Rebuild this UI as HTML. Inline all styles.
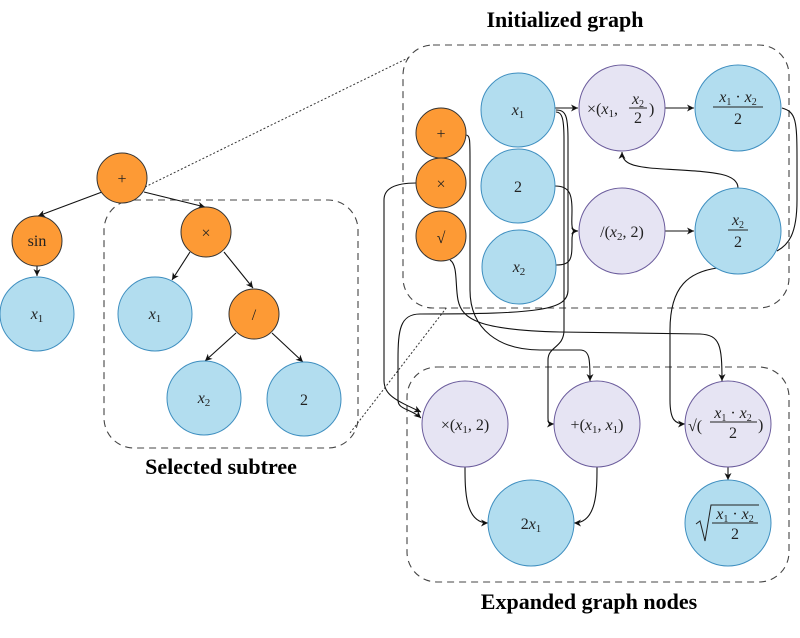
<!DOCTYPE html>
<html><head><meta charset="utf-8"><style>
body{margin:0;background:#fff}
svg{display:block}
text{font-family:"Liberation Serif",serif;font-size:16px;fill:#222}
.i{font-style:italic}
.t{font-weight:bold;font-size:22px;fill:#000}
.o{fill:#fd9a35;stroke:#333;stroke-width:1}
.b{fill:#b2ddef;stroke:#3f8fc0;stroke-width:1}
.l{fill:#e6e4f3;stroke:#6b5c9c;stroke-width:1}
.e{fill:none;stroke:#111;stroke-width:1.1}
.d{fill:none;stroke:#444;stroke-width:1.1;stroke-dasharray:7,5}
</style></head><body>
<svg width="800" height="638" viewBox="0 0 800 638" xmlns="http://www.w3.org/2000/svg">
<defs><marker id="a" markerWidth="8" markerHeight="8" refX="7" refY="4" orient="auto" markerUnits="userSpaceOnUse"><path d="M0,0.5 L7,4 L0,7.5 L2,4z" fill="#111"/></marker></defs>
<rect class="d" x="104" y="200" width="254" height="248" rx="30"/>
<rect class="d" x="403" y="45" width="386" height="263" rx="30"/>
<rect class="d" x="407" y="367" width="382" height="215" rx="30"/>
<line x1="145" y1="187" x2="410" y2="57" stroke="#333" stroke-dasharray="2,2"/>
<line x1="350" y1="433" x2="447" y2="307" stroke="#333" stroke-dasharray="2,2"/>
<text class="t" x="565" y="27" text-anchor="middle">Initialized graph</text>
<text class="t" x="221" y="474" text-anchor="middle">Selected subtree</text>
<text class="t" x="589" y="609" text-anchor="middle">Expanded graph nodes</text>
<g class="e">
<line x1="102" y1="192" x2="38" y2="216" marker-end="url(#a)"/>
<line x1="144" y1="192" x2="205" y2="207" marker-end="url(#a)"/>
<line x1="37" y1="266" x2="37" y2="276" marker-end="url(#a)"/>
<line x1="190" y1="252" x2="172" y2="280" marker-end="url(#a)"/>
<line x1="224" y1="252" x2="253" y2="288" marker-end="url(#a)"/>
<line x1="236" y1="333" x2="205" y2="361" marker-end="url(#a)"/>
<line x1="272" y1="333" x2="303" y2="362" marker-end="url(#a)"/>
</g>
<g class="e">
<path d="M555,108 L578,108" marker-end="url(#a)"/>
<path d="M665,108 L694,108" marker-end="url(#a)"/>
<path d="M665,231 L694,231" marker-end="url(#a)"/>
<path d="M738,188 C738,170 700,172 650,168 C630,166 622,162 622,152" marker-end="url(#a)"/>
<path d="M555,186 C570,186 572,195 572,210 C572,225 570,231 578,231" marker-end="url(#a)"/>
<path d="M556,265 C572,265 572,258 572,240 C572,232 574,231 578,231"/>
<path d="M556,110 C566,110 568,116 568,140 L568,290 C568,310 540,314 420,314 C400,314 398,330 398,360 L398,400 C398,410 410,408 421,418" marker-end="url(#a)"/>
<path d="M556,112 C562,112 564,118 564,140 L564,330 C564,348 548,346 548,360 L548,418 C548,424 550,424 554,424" marker-end="url(#a)"/>
<path d="M466,135 C470,135 470,140 470,160 L470,290 C470,330 500,350 540,350 L580,350 C590,350 590,360 590,381" marker-end="url(#a)"/>
<path d="M416,183 C400,183 384,186 384,200 L384,380 C384,395 395,400 421,412" marker-end="url(#a)"/>
<path d="M450,260 C458,265 455,285 458,300 C462,320 480,330 560,332 L700,334 C720,335 722,345 722,381" marker-end="url(#a)"/>
<path d="M717,268 C690,272 670,285 670,330 L670,400 C670,420 675,424 685,424" marker-end="url(#a)"/>
<path d="M782,108 C796,112 797,120 797,160 L797,200 C797,235 788,245 777,251"/>
<path d="M728,467 L728,480" marker-end="url(#a)"/>
<path d="M465,467 C465,490 465,523 488,523" marker-end="url(#a)"/>
<path d="M597,467 C597,490 597,523 574,523" marker-end="url(#a)"/>
</g>
<circle class="o" cx="122" cy="178" r="25"/><text x="122" y="184" text-anchor="middle" font-size="18">+</text>
<circle class="o" cx="37" cy="241" r="25"/><text x="37" y="246" text-anchor="middle">sin</text>
<circle class="b" cx="37" cy="314" r="37"/><text class="i" x="37" y="319" text-anchor="middle">x<tspan font-size="11" dy="3" font-style="normal">1</tspan></text>
<circle class="o" cx="206" cy="232" r="25"/><text x="206" y="238" text-anchor="middle" font-size="18">×</text>
<circle class="b" cx="155" cy="314" r="37"/><text class="i" x="155" y="319" text-anchor="middle">x<tspan font-size="11" dy="3" font-style="normal">1</tspan></text>
<circle class="o" cx="254" cy="314" r="25"/><text x="254" y="320" text-anchor="middle" font-size="18">/</text>
<circle class="b" cx="204" cy="398" r="37"/><text class="i" x="204" y="403" text-anchor="middle">x<tspan font-size="11" dy="3" font-style="normal">2</tspan></text>
<circle class="b" cx="304" cy="399" r="37"/><text x="304" y="405" text-anchor="middle" font-size="18">2</text>
<circle class="o" cx="441" cy="133" r="25"/><text x="441" y="139" text-anchor="middle" font-size="18">+</text>
<circle class="o" cx="441" cy="183" r="25"/><text x="441" y="189" text-anchor="middle" font-size="18">×</text>
<circle class="o" cx="441" cy="236" r="25"/><text x="441" y="243" text-anchor="middle" font-size="19">√</text>
<circle class="b" cx="518" cy="110" r="37"/><text class="i" x="518" y="115" text-anchor="middle">x<tspan font-size="11" dy="3" font-style="normal">1</tspan></text>
<circle class="b" cx="518" cy="186" r="37"/><text x="518" y="192" text-anchor="middle" font-size="17">2</text>
<circle class="b" cx="519" cy="267" r="37"/><text class="i" x="519" y="272" text-anchor="middle">x<tspan font-size="11" dy="3" font-style="normal">2</tspan></text>
<circle class="l" cx="622" cy="108" r="43"/>
<text x="587" y="114">×(<tspan class="i">x</tspan><tspan font-size="11" dy="3">1</tspan><tspan dy="-3">,</tspan></text>
<text class="i" x="638" y="104" text-anchor="middle" font-size="15">x<tspan font-size="10" dy="3" font-style="normal">2</tspan></text>
<line x1="629" y1="108" x2="647" y2="108" stroke="#222"/>
<text x="638" y="123" text-anchor="middle" font-size="15">2</text>
<text x="649" y="114">)</text>
<circle class="l" cx="622" cy="231" r="43"/>
<text x="622" y="237" text-anchor="middle">/(<tspan class="i">x</tspan><tspan font-size="11" dy="3">2</tspan><tspan dy="-3">, 2)</tspan></text>
<circle class="b" cx="738" cy="108" r="43"/>
<text class="i" x="738" y="102" text-anchor="middle" font-size="15">x<tspan font-size="10" dy="3" font-style="normal">1</tspan><tspan dy="-3" font-style="normal"> · </tspan>x<tspan font-size="10" dy="3" font-style="normal">2</tspan></text>
<line x1="713" y1="107" x2="763" y2="107" stroke="#222"/>
<text x="738" y="124" text-anchor="middle" font-size="15">2</text>
<circle class="b" cx="738" cy="231" r="43"/>
<text class="i" x="738" y="225" text-anchor="middle" font-size="15">x<tspan font-size="10" dy="3" font-style="normal">2</tspan></text>
<line x1="728" y1="230" x2="748" y2="230" stroke="#222"/>
<text x="738" y="247" text-anchor="middle" font-size="15">2</text>
<circle class="l" cx="465" cy="424" r="43"/>
<text x="465" y="430" text-anchor="middle">×(<tspan class="i">x</tspan><tspan font-size="11" dy="3">1</tspan><tspan dy="-3">, 2)</tspan></text>
<circle class="l" cx="597" cy="424" r="43"/>
<text x="597" y="430" text-anchor="middle">+(<tspan class="i">x</tspan><tspan font-size="11" dy="3">1</tspan><tspan dy="-3">, </tspan><tspan class="i">x</tspan><tspan font-size="11" dy="3">1</tspan><tspan dy="-3">)</tspan></text>
<circle class="l" cx="728" cy="424" r="43"/>
<text x="688" y="431" font-size="16">√(</text>
<text class="i" x="733" y="418" text-anchor="middle" font-size="14">x<tspan font-size="10" dy="3" font-style="normal">1</tspan><tspan dy="-3" font-style="normal"> · </tspan>x<tspan font-size="10" dy="3" font-style="normal">2</tspan></text>
<line x1="710" y1="422" x2="757" y2="422" stroke="#222"/>
<text x="733" y="438" text-anchor="middle" font-size="14">2</text>
<text x="758" y="430">)</text>
<circle class="b" cx="531" cy="523" r="43"/>
<text x="531" y="529" text-anchor="middle" font-size="17">2<tspan class="i">x</tspan><tspan font-size="11" dy="3">1</tspan></text>
<circle class="b" cx="728" cy="523" r="43"/>
<path d="M696,524 L700,521 L705,541 L711,505 L759,505" fill="none" stroke="#222" stroke-width="1"/>
<text class="i" x="735" y="519" text-anchor="middle" font-size="14">x<tspan font-size="10" dy="3" font-style="normal">1</tspan><tspan dy="-3" font-style="normal"> · </tspan>x<tspan font-size="10" dy="3" font-style="normal">2</tspan></text>
<line x1="712" y1="523" x2="758" y2="523" stroke="#222"/>
<text x="735" y="539" text-anchor="middle" font-size="14">2</text>
</svg>
</body></html>
